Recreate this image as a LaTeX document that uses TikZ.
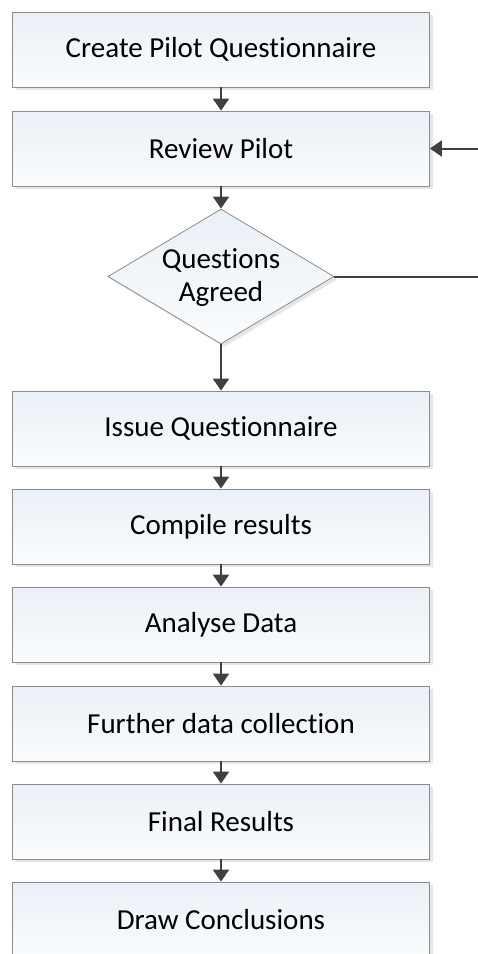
\documentclass[tikz,border=0pt]{standalone}
\usepackage{fontspec}
\setmainfont{Carlito}[Ligatures=NoCommon]
\usetikzlibrary{shapes.geometric,arrows.meta,shadows}
\definecolor{boxline}{HTML}{8C8C8C}
\definecolor{boxtop}{HTML}{EAF0F7}
\definecolor{boxbot}{HTML}{FAFCFD}
\definecolor{shadowgrey}{HTML}{E6E6E6}
\definecolor{arrowgrey}{HTML}{404040}
\begin{document}
\begin{tikzpicture}[x=1pt,y=-1pt,
  boxlook/.style={draw=boxline, line width=0.8pt, top color=boxtop, bottom color=boxbot,
    drop shadow={shadow xshift=3pt,shadow yshift=-3pt,fill=shadowgrey,opacity=1},
    inner sep=0pt},
  labeltext/.style={font=\fontsize{29}{33}\selectfont, align=center},
  stepbox/.style={boxlook, labeltext, rectangle, minimum width=417pt, minimum height=75pt},
  decision/.style={boxlook, diamond, minimum width=226pt, minimum height=135pt},
  flow/.style={draw=arrowgrey, line width=2pt, -{Triangle[length=12pt,width=16pt]}},
  plainline/.style={draw=arrowgrey, line width=2pt}]
  \clip (0,0) rectangle (478,954);
  \fill[white] (0,0) rectangle (478,954);

  \node[stepbox] (create)  at (221,49.5)  {Create Pilot Questionnaire};
  \node[stepbox] (review)  at (221,148.5) {Review Pilot};
  \node[decision] (agreed) at (221,276.5) {};
  \node[labeltext] (agreedtext) at (221,278) {Questions\\Agreed};
  \node[stepbox] (issue)   at (221,428.5) {Issue Questionnaire};
  \node[stepbox] (compile) at (221,526.5) {Compile results};
  \node[stepbox] (analyse) at (221,624.5) {Analyse Data};
  \node[stepbox] (further) at (221,723.5) {Further data collection};
  \node[stepbox] (final)   at (221,821.5) {Final Results};
  \node[stepbox] (draw)    at (221,919.5) {Draw Conclusions};

  \coordinate (loopout) at (478,276.5);
  \coordinate (loopin)  at (478,148.5);

  \draw[flow] (create) -- (review);
  \draw[flow] (review) -- (agreed.north);
  \draw[flow] (agreed.south) -- (issue);
  \draw[flow] (issue) -- (compile);
  \draw[flow] (compile) -- (analyse);
  \draw[flow] (analyse) -- (further);
  \draw[flow] (further) -- (final);
  \draw[flow] (final) -- (draw);

  % return path toward the review step (runs off the right edge)
  \draw[plainline] (agreed.east) -- (loopout);
  \draw[flow] (loopin) -- (review.east);
\end{tikzpicture}
\end{document}
